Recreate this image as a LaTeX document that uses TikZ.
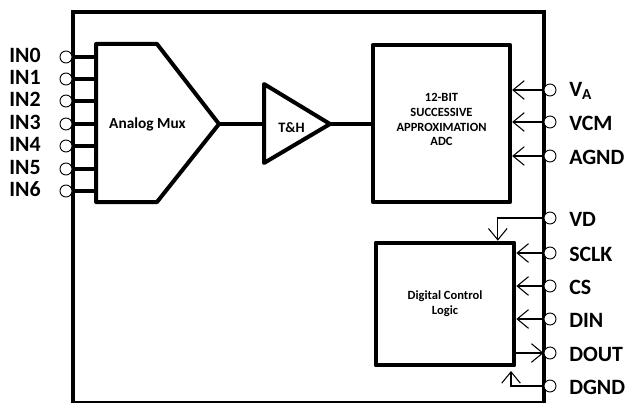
\documentclass[tikz,border=0pt]{standalone}
\usepackage{fontspec}
\setmainfont{Carlito}
\usetikzlibrary{positioning, calc, arrows.meta}
\tikzset{
  pin/.style={draw, circle, fill=white, inner sep=0pt, minimum size=9pt, line width=0.7pt},
  pinlabel/.style={anchor=west, inner sep=0pt, font=\bfseries\fontsize{16.4}{17}\selectfont},
  block/.style={draw, line width=3pt, line join=round, inner sep=0pt},
  blocktext/.style={align=center, font=\bfseries\fontsize{9.4}{11.2}\selectfont},
  bigtext/.style={font=\bfseries\fontsize{11.5}{12}\selectfont},
  heavy/.style={line width=3pt},
  sig/.style={line width=0.9pt, -{Straight Barb[length=8.5pt, width=14pt, line width=0.8pt]}}
}
\begin{document}
\begin{tikzpicture}[x=0.75pt, y=-0.75pt]
  \useasboundingbox (0,0) rectangle (627,403);
  \draw[heavy] (73,403) -- (73,12) -- (544,12) -- (544,403);
  \draw[line width=0.9pt] (73,402) -- (544,402);
  % analog side
  \draw[block] (96,44) -- (157,44) -- (219,124) -- (157,202) -- (96,202) -- cycle;
  \coordinate (muxout) at (219,124);
  \node[bigtext] (mux) at (147.5,124) {Analog Mux};
  \draw[block] (264,84) -- (330,124) -- (264,163) -- cycle;
  \coordinate (thin) at (264,124);
  \coordinate (thout) at (330,124);
  \node[bigtext, font=\bfseries\fontsize{10.8}{12}\selectfont] (th) at (291.5,128) {T\&H};
  \node[block, minimum width=103pt, minimum height=118pt] (adc) at (441.5,123.5) {};
  \node[blocktext] (adctext) at (441.5,119.5) {12-BIT\\SUCCESSIVE\\APPROXIMATION\\ADC};
  \node[block, blocktext, minimum width=104pt, minimum height=92pt] (dcl) at (445,304)
    {Digital Control\\Logic};
  \draw[heavy] (muxout) -- (thin);
  \draw[heavy] (thout) -- (adc.west |- thout);
  % input pins
  \foreach \n/\y in {0/57, 1/79, 2/101, 3/124, 4/146, 5/169, 6/191} {
    \node[pin] (in\n) at (66,\y) {};
    \node[pinlabel] (inlabel\n) at (9,\y-2) {IN\n};
    \draw[heavy] (in\n.east) -- (96,\y);
  }
  % output side
  \foreach \name/\txt/\y in {va/V\textsubscript{A}/90, vcm/VCM/122, agnd/AGND/156, vd/VD/218,
      sclk/SCLK/253, cs/CS/286, din/DIN/319, dout/DOUT/353, dgnd/DGND/386} {
    \node[pin] (\name) at (550,\y) {};
    \node[pinlabel] (\name label) at (569,\y+1) {\txt};
  }
  \draw[sig] (va.west) -- (va.west -| adc.east);
  \draw[sig] (vcm.west) -- (vcm.west -| adc.east);
  \draw[sig] (agnd.west) -- (agnd.west -| adc.east);
  \draw[sig] (vd.west) -| ($(dcl.north west)!0.87!(dcl.north east)$);
  \draw[sig] (sclk.west) -- (sclk.west -| dcl.east);
  \draw[sig] (cs.west) -- (cs.west -| dcl.east);
  \draw[sig] (din.west) -- (din.west -| dcl.east);
  \draw[sig] (dout.west -| dcl.east) -- (dout.west);
  \draw[sig] (dgnd.west) -| (511,371);
\end{tikzpicture}
\end{document}
